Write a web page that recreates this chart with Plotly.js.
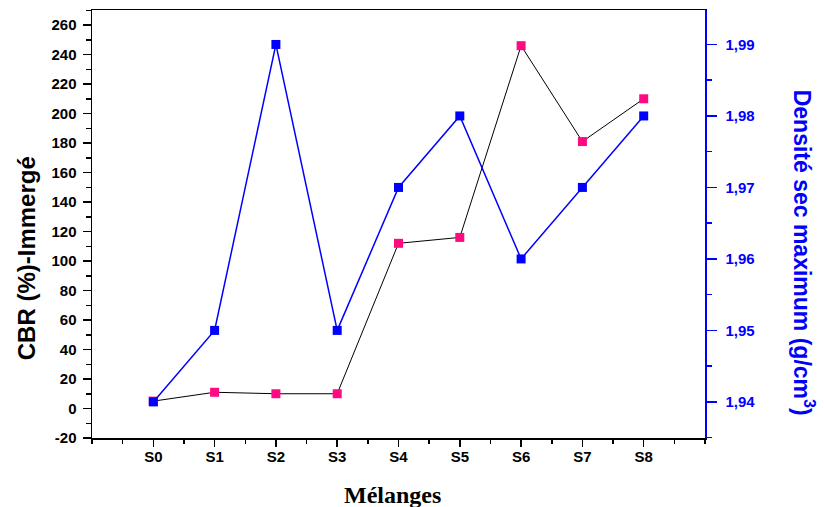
<!DOCTYPE html>
<html>
<head>
<meta charset="utf-8">
<script src="https://cdn.plot.ly/plotly-3.0.1.min.js"></script>
<style>
  html, body { margin: 0; padding: 0; background: #ffffff; }
  #chart { width: 824px; height: 507px; }
</style>
</head>
<body>
<div id="chart"></div>
<script>
// ---- data ----
const categories = ['S0', 'S1', 'S2', 'S3', 'S4', 'S5', 'S6', 'S7', 'S8'];
const cbrImmerge = [5, 11, 10, 10, 112, 116, 246, 181, 210];
const densiteSec = [1.94, 1.95, 1.99, 1.95, 1.97, 1.98, 1.96, 1.97, 1.98];
const cbrTicks = [-20, 0, 20, 40, 60, 80, 100, 120, 140, 160, 180, 200, 220, 240, 260];
const densiteTicks = [1.94, 1.95, 1.96, 1.97, 1.98, 1.99];

const xIdx = categories.map((c, i) => i);

const PINK = '#FF0A80';
const BLUE = '#0000FF';
const sans = 'Liberation Sans, Arial, sans-serif';

const traces = [
  {
    x: xIdx, y: cbrImmerge, yaxis: 'y', type: 'scatter', mode: 'lines+markers',
    line: { color: '#000000', width: 1 },
    marker: { symbol: 'square', size: 9, color: PINK },
    cliponaxis: false, hoverinfo: 'skip'
  },
  {
    x: xIdx, y: densiteSec, yaxis: 'y2', type: 'scatter', mode: 'lines+markers',
    line: { color: BLUE, width: 1.5 },
    marker: { symbol: 'square', size: 9, color: BLUE },
    cliponaxis: false, hoverinfo: 'skip'
  }
];

const layout = {
  width: 824, height: 507,
  margin: { l: 92, r: 119, t: 10, b: 69 },
  paper_bgcolor: '#ffffff', plot_bgcolor: '#ffffff',
  showlegend: false,
  separators: ', ',
  xaxis: {
    range: [-1, categories.length],
    tickmode: 'array', tickvals: xIdx, ticktext: categories,
    ticks: 'outside', ticklen: 7, tickwidth: 1.5, tickcolor: '#000',
    minor: { tickmode: 'linear', tick0: -1, dtick: 0.5, ticks: 'outside', ticklen: 4, tickwidth: 1.5, tickcolor: '#000', showgrid: false },
    showline: true, linecolor: '#000', linewidth: 1.5, mirror: true,
    showgrid: false, zeroline: false,
    tickfont: { family: sans, size: 15, color: '#000', weight: 'bold' },
    ticklabelstandoff: -3
  },
  yaxis: {
    range: [-20, 270.2],
    tickmode: 'array', tickvals: cbrTicks, ticktext: cbrTicks.map(v => String(v)),
    ticks: 'outside', ticklen: 8, tickwidth: 1.5, tickcolor: '#000',
    minor: { tickmode: 'linear', tick0: -20, dtick: 10, ticks: 'outside', ticklen: 5, tickwidth: 1.5, tickcolor: '#000', showgrid: false },
    showline: true, linecolor: '#000', linewidth: 1.5, mirror: false,
    showgrid: false, zeroline: false,
    tickfont: { family: sans, size: 15, color: '#000', weight: 'bold' },
    ticklabelstandoff: 3
  },
  yaxis2: {
    overlaying: 'y', side: 'right', anchor: 'x',
    range: [1.93495, 1.99482],
    tickmode: 'array', tickvals: densiteTicks, tickformat: '.2f',
    ticks: 'outside', ticklen: 10, tickwidth: 1.5, tickcolor: BLUE,
    minor: { tickmode: 'linear', tick0: 1.935, dtick: 0.005, ticks: 'outside', ticklen: 5, tickwidth: 1.5, tickcolor: BLUE, showgrid: false },
    showline: true, linecolor: BLUE, linewidth: 1.5,
    showgrid: false, zeroline: false,
    tickfont: { family: sans, size: 15, color: BLUE, weight: 'bold' },
    ticklabelstandoff: 6
  },
  annotations: [
    {
      text: 'CBR (%)-Immergé', xref: 'paper', yref: 'paper',
      x: -0.1077, y: 0.42, xanchor: 'center', yanchor: 'middle',
      textangle: -90, showarrow: false,
      font: { family: sans, size: 24, color: '#000', weight: 'bold' }
    },
    {
      text: 'Densité sec maximum (g/cm<sup>3</sup>)', xref: 'paper', yref: 'paper',
      x: 1.1615, y: 0.433, xanchor: 'center', yanchor: 'middle',
      textangle: 90, showarrow: false,
      font: { family: sans, size: 23, color: BLUE, weight: 'bold' }
    },
    {
      text: 'Mélanges', xref: 'paper', yref: 'paper',
      x: 0.49, y: -0.133, xanchor: 'center', yanchor: 'middle',
      showarrow: false,
      font: { family: 'Liberation Serif, Times New Roman, serif', size: 24, color: '#000', weight: 'bold' }
    }
  ]
};

Plotly.newPlot('chart', traces, layout, { staticPlot: true, displayModeBar: false });
</script>
</body>
</html>
